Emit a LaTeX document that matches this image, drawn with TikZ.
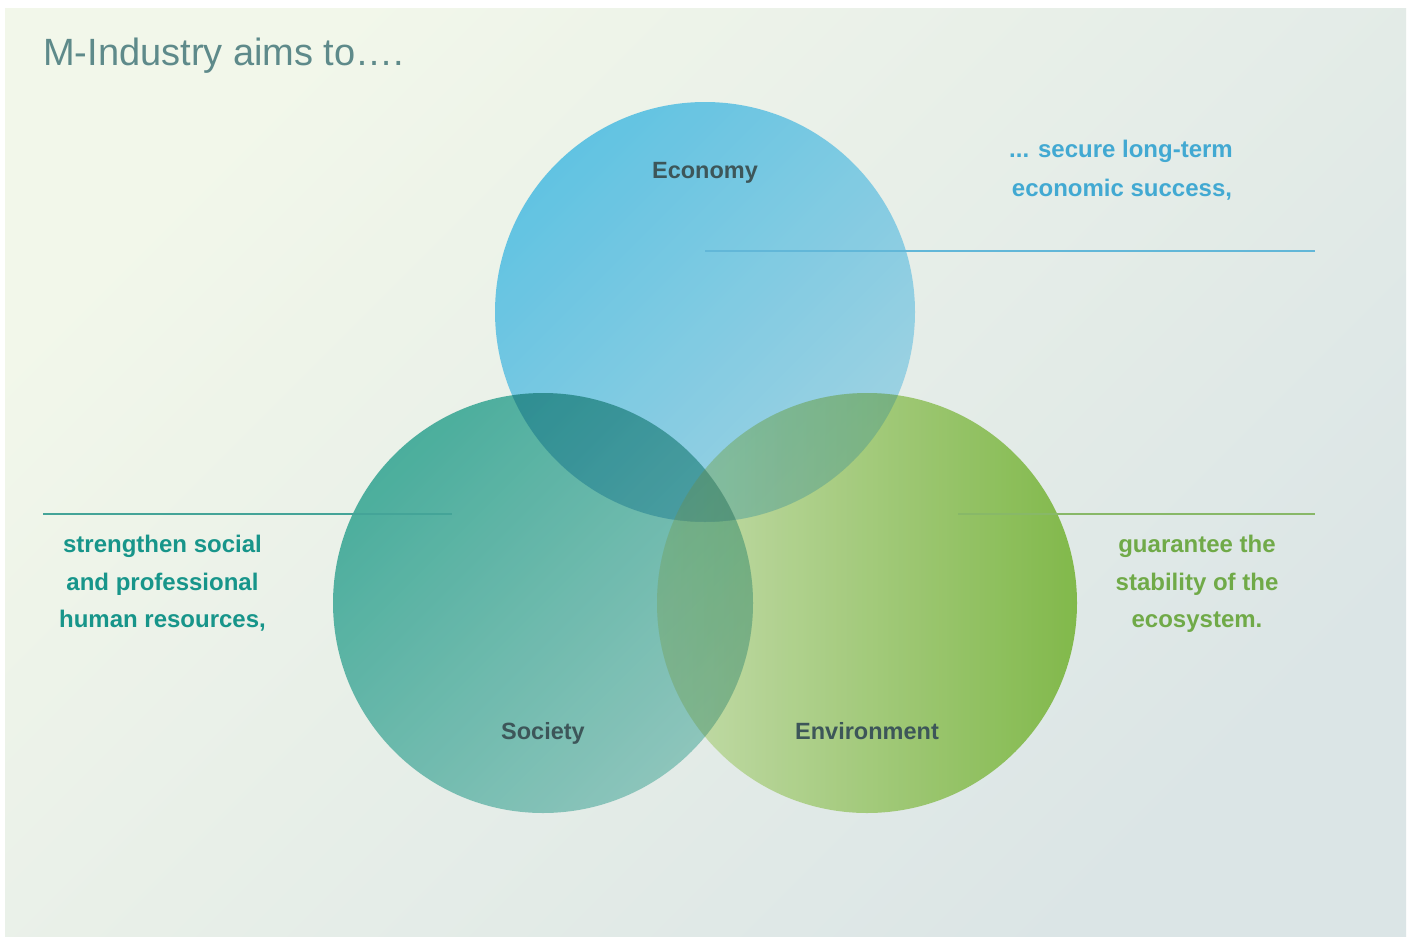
\documentclass[tikz,border=0pt]{standalone}
\usepackage{fontspec}
\setmainfont{Liberation Sans}
\definecolor{bgTL}{HTML}{F2F7EA}
\definecolor{bgBR}{HTML}{DBE5E6}
\definecolor{ecoA}{HTML}{46B9DD}
\definecolor{ecoB}{HTML}{8CCADE}
\definecolor{socA}{HTML}{2CA08C}
\definecolor{socB}{HTML}{79BBB0}
\definecolor{envA}{HTML}{BBD69E}
\definecolor{envB}{HTML}{6CAD2C}
\definecolor{labelcol}{HTML}{3D5659}
\definecolor{bluetxt}{HTML}{42A9D2}
\definecolor{tealtxt}{HTML}{17958A}
\definecolor{greentxt}{HTML}{70AA48}
\definecolor{titlecol}{HTML}{5E8A8A}
\definecolor{blueline}{HTML}{62B7D8}
\definecolor{tealline}{HTML}{44A498}
\definecolor{greenline}{HTML}{88B868}
\tikzset{
  circlab/.style={font=\fontsize{23.5}{28}\selectfont\bfseries, text=labelcol, inner sep=0pt, anchor=base},
  aimtext/.style={font=\fontsize{24}{28}\selectfont\bfseries, inner sep=0pt, anchor=base},
  venn/.style={blend mode=multiply, fill opacity=0.85},
  guide/.style={line width=1.2pt}
}
\def\ecoC{(705,312) circle[radius=210]}
\def\socC{(543,603) circle[radius=210]}
\def\envC{(867,603) circle[radius=210]}
\begin{document}
\begin{tikzpicture}[x=1pt,y=-1pt]
\useasboundingbox (0,0) rectangle (1412,937);
\fill[white] (0,0) rectangle (1412,937);
\shade[top color=bgTL, bottom color=bgBR, shading angle=45] (5,8) rectangle (1406,936);
% title
\node[font=\fontsize{38}{44}\selectfont, text=titlecol, inner sep=0pt, anchor=base west] (title) at (43,65) {M-Industry aims to\dots.};
% white underlay so the circles keep their own colours
\fill[white] \ecoC \socC \envC;
% circles
\shade[venn, top color=socA, bottom color=socB, shading angle=45] \socC;
\shade[venn, left color=envA, right color=envB] \envC;
\shade[venn, top color=ecoA, bottom color=ecoB, shading angle=45] \ecoC;
% soften the overlaps
\begin{scope}
  \clip \ecoC; \clip \socC;
  \fill[white, fill opacity=0.05, even odd rule] (0,0) rectangle (1412,937) \envC;
\end{scope}
\begin{scope}
  \clip \ecoC; \clip \envC;
  \fill[white, fill opacity=0.16, even odd rule] (0,0) rectangle (1412,937) \socC;
\end{scope}
\begin{scope}
  \clip \socC; \clip \envC;
  \fill[white, fill opacity=0.16, even odd rule] (0,0) rectangle (1412,937) \ecoC;
\end{scope}
\begin{scope}
  \clip \socC; \clip \envC; \clip \ecoC;
  \fill[white, fill opacity=0.18] (0,0) rectangle (1412,937);
\end{scope}
% circle labels
\node[circlab] (eco) at (705,178) {Economy};
\node[circlab] (soc) at (543,739) {Society};
\node[circlab] (env) at (867,739) {Environment};
% guide lines
\coordinate (ecoL) at (705,251);
\coordinate (ecoR) at (1315,251);
\coordinate (socL) at (43,514);
\coordinate (socR) at (452,514);
\coordinate (envL) at (958,514);
\coordinate (envR) at (1315,514);
\draw[guide, blueline] (ecoL) -- (ecoR);
\draw[guide, tealline] (socL) -- (socR);
\draw[guide, greenline] (envL) -- (envR);
% aim texts
\node[aimtext, text=bluetxt] (eco1) at (1121,157) {... secure long-term};
\node[aimtext, text=bluetxt] (eco2) at (1122,196) {economic success,};
\node[aimtext, text=tealtxt] (soc1) at (162.5,552) {strengthen social};
\node[aimtext, text=tealtxt] (soc2) at (162.5,590) {and professional};
\node[aimtext, text=tealtxt] (soc3) at (162.5,627) {human resources,};
\node[aimtext, text=greentxt] (env1) at (1197,552) {guarantee the};
\node[aimtext, text=greentxt] (env2) at (1197,590) {stability of the};
\node[aimtext, text=greentxt] (env3) at (1197,627) {ecosystem.};
\end{tikzpicture}
\end{document}
